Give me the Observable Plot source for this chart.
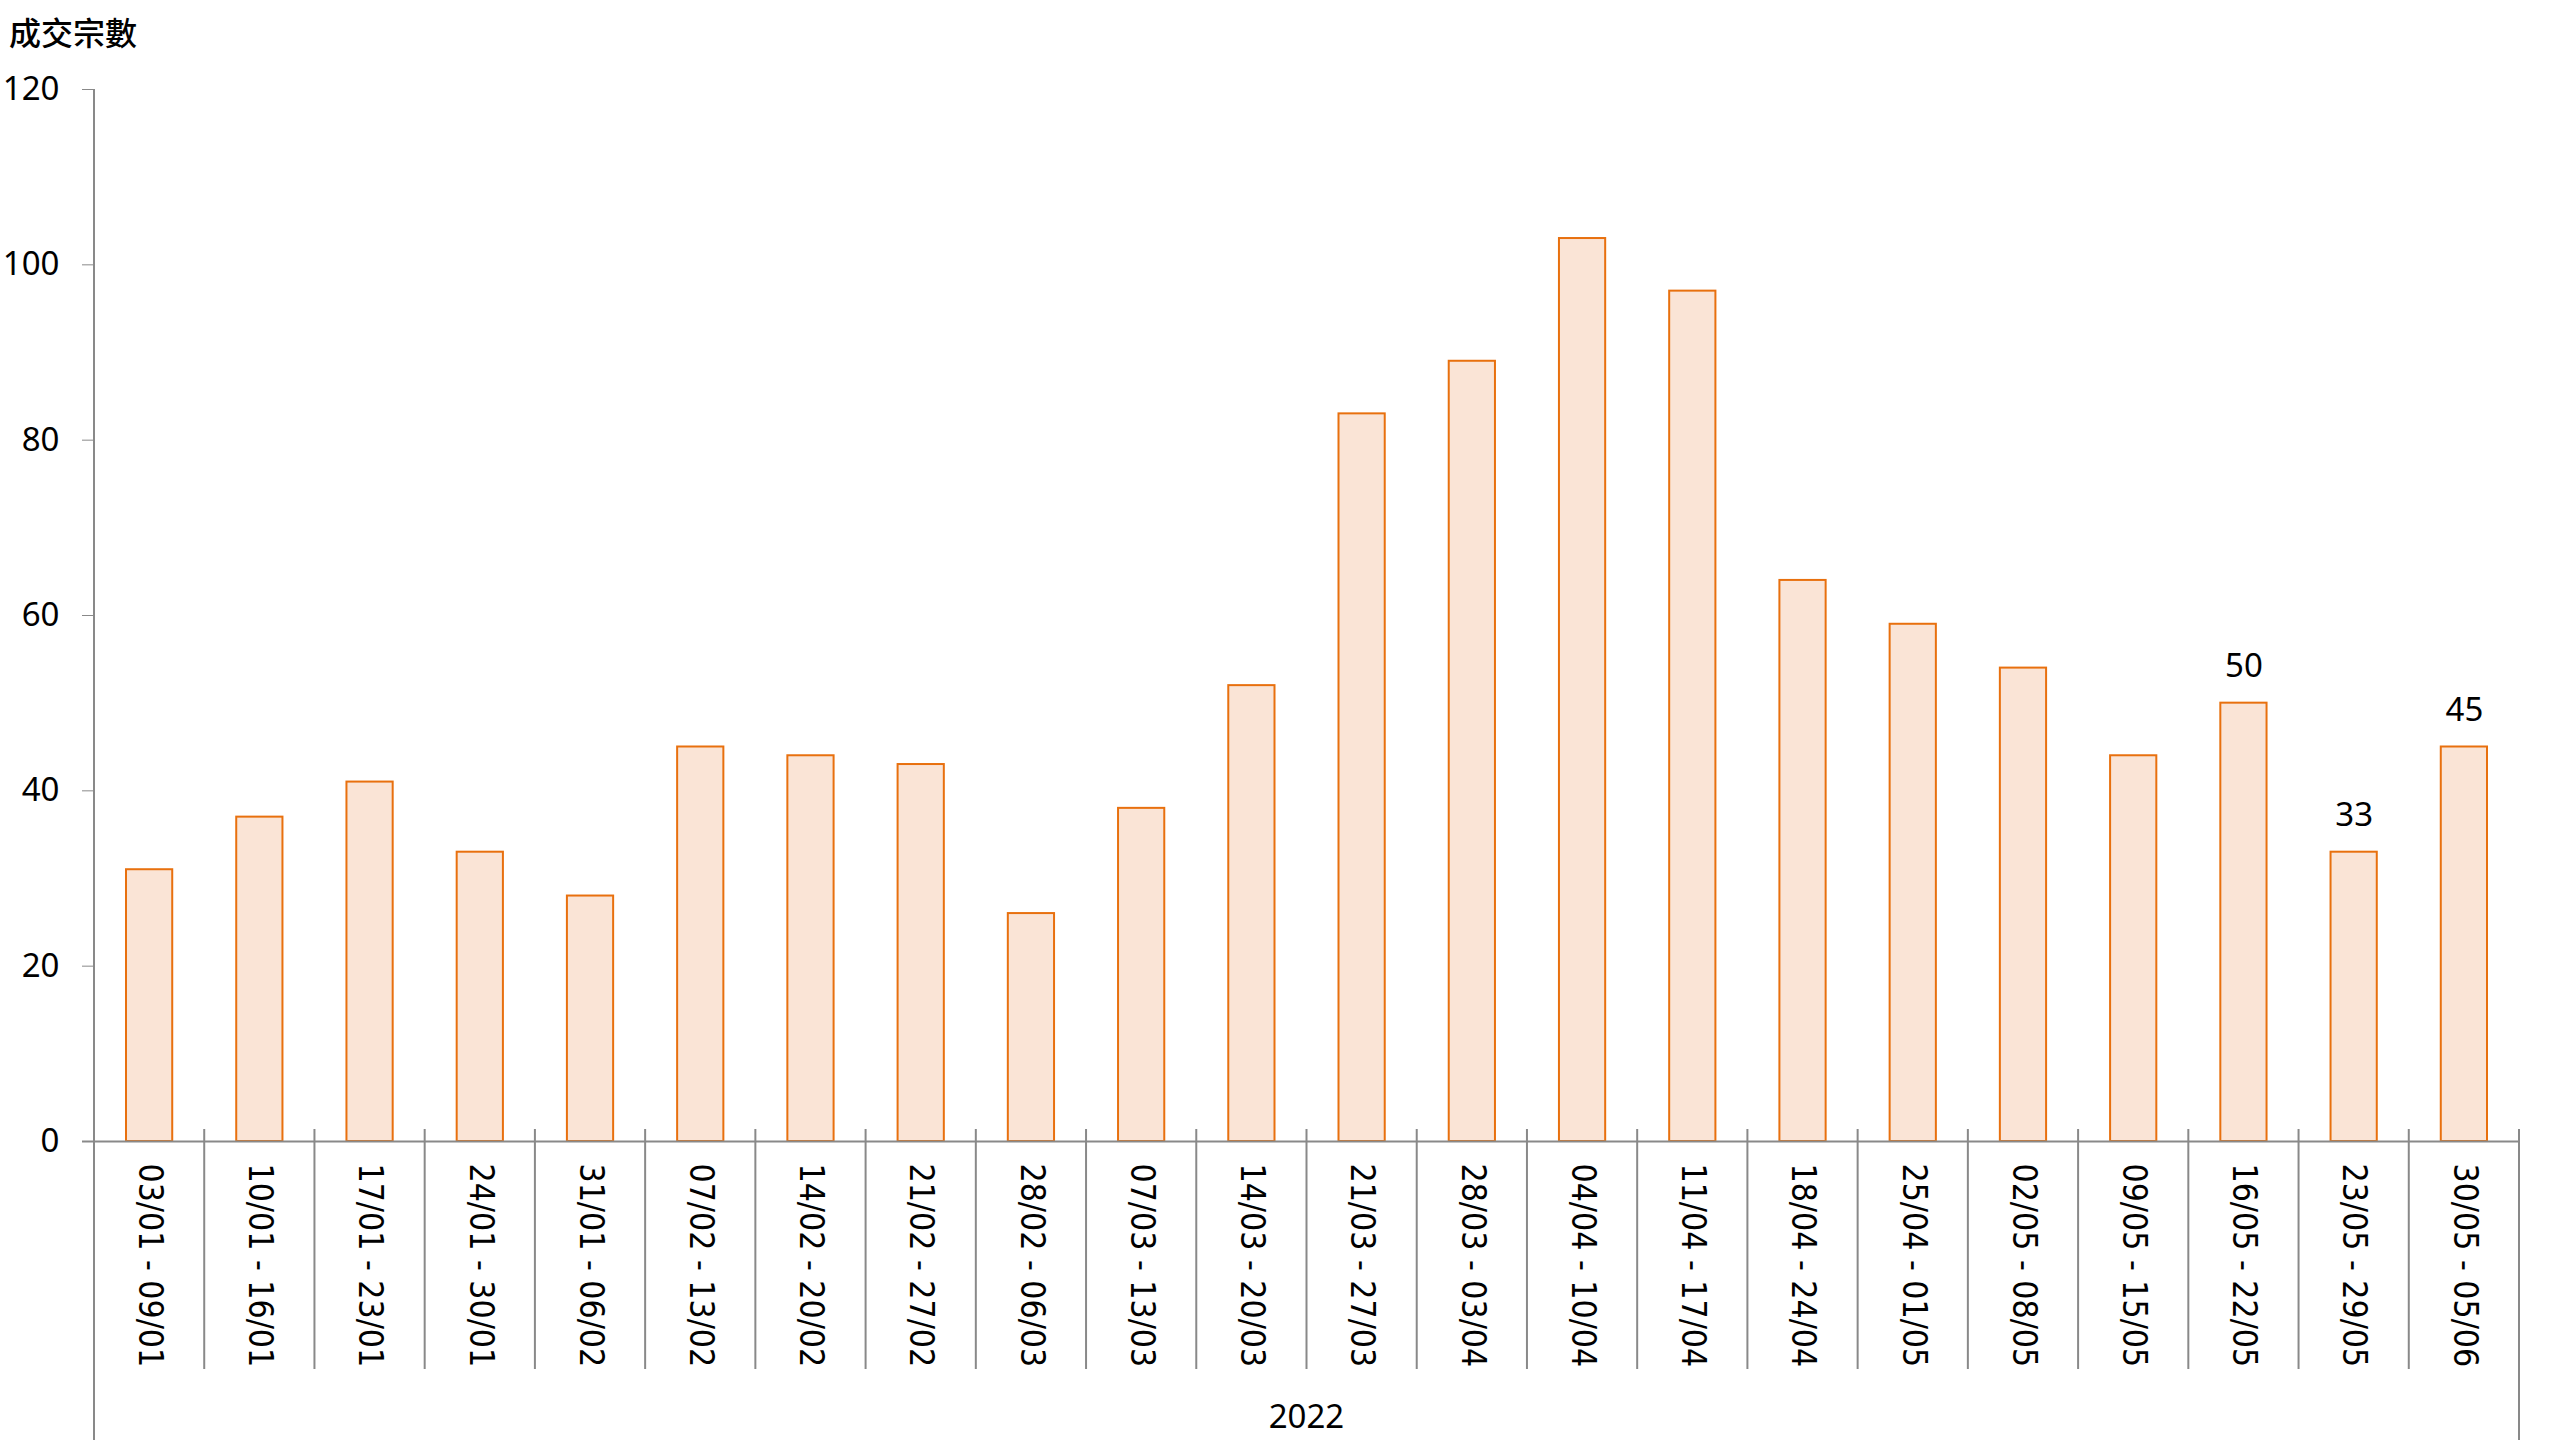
<!DOCTYPE html>
<html>
<head>
<meta charset="utf-8">
<script src="https://cdn.jsdelivr.net/npm/d3@7"></script>
<script src="https://cdn.jsdelivr.net/npm/@observablehq/plot@0.6"></script>
<style>
  html, body { margin: 0; padding: 0; background: #fff; }
  #chart svg { display: block; }
</style>
</head>
<body>
<div id="chart"></div>
<script>
const categories = [
  "03/01 - 09/01", "10/01 - 16/01", "17/01 - 23/01", "24/01 - 30/01",
  "31/01 - 06/02", "07/02 - 13/02", "14/02 - 20/02", "21/02 - 27/02",
  "28/02 - 06/03", "07/03 - 13/03", "14/03 - 20/03", "21/03 - 27/03",
  "28/03 - 03/04", "04/04 - 10/04", "11/04 - 17/04", "18/04 - 24/04",
  "25/04 - 01/05", "02/05 - 08/05", "09/05 - 15/05", "16/05 - 22/05",
  "23/05 - 29/05", "30/05 - 05/06"
];
const values = [31, 37, 41, 33, 28, 45, 44, 43, 26, 38, 52, 83, 89, 103, 97, 64, 59, 54, 44, 50, 33, 45];
const labeledCategories = ["16/05 - 22/05", "23/05 - 29/05", "30/05 - 05/06"];
const yTicks = [0, 20, 40, 60, 80, 100, 120];
const yearLabel = "2022";
const yTitle = "成交宗數";

const data = categories.map((week, i) => ({week, count: values[i]}));

const latinFont = "'Noto Sans', 'Open Sans', sans-serif";
const xFont = "'DejaVu Sans Condensed', 'DejaVu Sans', sans-serif";
const axisGray = "#898989";

const chart = Plot.plot({
  width: 2560,
  height: 1440,
  marginLeft: 94,
  marginRight: 41,
  marginTop: 89,
  marginBottom: 299,
  style: {background: "#fff", fontFamily: latinFont, color: "#000"},
  x: {domain: categories, padding: 0, round: false, axis: null},
  y: {domain: [0, 120], axis: null},
  marks: [
    Plot.barY(data, {
      x: "week", y: "count",
      fill: "#FAE4D6", stroke: "#E8700E", strokeWidth: 2,
      insetLeft: 32, insetRight: 32
    }),
    Plot.ruleY([0], {stroke: axisGray, strokeWidth: 2, insetLeft: -12}),
    Plot.axisY({
      ticks: yTicks, tickSize: 12, tickPadding: 23, fontSize: 33,
      stroke: axisGray, fill: "#000", label: null, tickFormat: d => String(d)
    }),
    Plot.axisX({
      tickRotate: 90, tickSize: 0, tickPadding: 22, fontSize: 33.5,
      fontFamily: xFont, fill: "#000", label: null
    }),
    Plot.text(data.filter(d => labeledCategories.includes(d.week)), {
      x: "week", y: "count", text: d => String(d.count),
      dy: -37, fontSize: 33, fill: "#000"
    })
  ]
});

document.getElementById("chart").appendChild(chart);

// Structural lines of the multi-level category axis, derived from Plot's scales
const xs = chart.scale("x");
const ys = chart.scale("y");
const y0 = ys.apply(0);
const yTop = ys.apply(120);
const H = 1440;
const starts = categories.map(c => xs.apply(c));
const bounds = [...starts, starts[starts.length - 1] + xs.step];
const svg = d3.select(chart);
const g = svg.append("g").attr("stroke", axisGray).attr("stroke-width", 2);
// y axis line extending down through the category axis
g.append("line").attr("x1", bounds[0]).attr("x2", bounds[0]).attr("y1", yTop).attr("y2", H);
bounds.forEach((bx, i) => {
  if (i === 0) return;
  const last = i === bounds.length - 1;
  g.append("line")
    .attr("x1", bx).attr("x2", bx)
    .attr("y1", y0 - 12)
    .attr("y2", last ? H : y0 + 228);
});
svg.append("text")
  .attr("x", (bounds[0] + bounds[bounds.length - 1]) / 2)
  .attr("y", H - 25)
  .attr("text-anchor", "middle")
  .attr("dominant-baseline", "central")
  .attr("font-family", latinFont)
  .attr("font-size", 33)
  .attr("fill", "#000")
  .text(yearLabel);
svg.append("text")
  .attr("x", 9)
  .attr("y", 31)
  .attr("text-anchor", "start")
  .attr("dominant-baseline", "central")
  .attr("font-family", "'Noto Sans CJK TC', sans-serif")
  .attr("font-size", 32)
  .attr("font-weight", 500)
  .attr("fill", "#000")
  .text(yTitle);
</script>
</body>
</html>
